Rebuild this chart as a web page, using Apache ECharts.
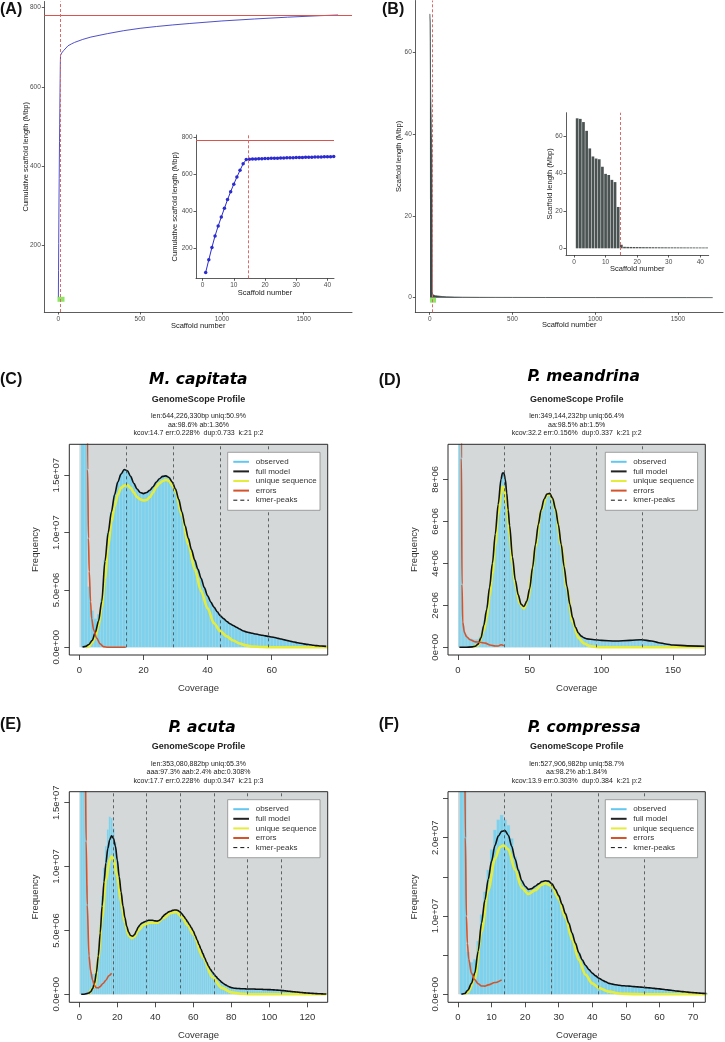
<!DOCTYPE html>
<html><head><meta charset="utf-8">
<script src="https://cdn.jsdelivr.net/npm/echarts@6/dist/echarts.min.js"></script>
<style>html,body{margin:0;padding:0;background:#fff}#c{width:725px;height:1042px}</style>
</head><body><div id="c"></div>
<script>
// ---------------- DATA ----------------
// (A) cumulative scaffold length (Mbp) for scaffolds 1..42 (inset) and sampled tail
const aInsetLen = [70, 138, 205, 267, 320, 369, 416, 463, 506, 546, 585, 621, 657, 679,
  681, 681.8, 682.5, 683.2, 683.9, 684.6, 685.2, 685.8, 686.4, 687, 687.6, 688.1, 688.6, 689.1,
  689.6, 690.1, 690.6, 691.1, 691.5, 692, 692.4, 692.8, 693.2, 693.6, 694, 694.4, 694.8, 695.2];
const aTailX = [60, 80, 100, 150, 200, 300, 400, 500, 600, 700, 800, 1000, 1200, 1400, 1600, 1710];
const aTailY = [703.5, 708, 712, 719.5, 725.5, 734, 741.5, 747.5, 752, 756, 759.5, 766, 771, 775.5, 779.3, 781];
const totalLen = 781;
const cutoffScaffold = 14.5;
const aFlag = [17, 65];
// (B) scaffold length (Mbp), scaffolds 1..42 and sampled tail
const bLen = [69.5, 69.2, 67.5, 62.8, 53.4, 49.1, 48.0, 47.6, 43.6, 39.8, 39.2, 36.6, 35.4, 22.1,
  1.9, 0.8, 0.75, 0.72, 0.7, 0.68, 0.65, 0.62, 0.6, 0.6, 0.58, 0.56, 0.55, 0.53, 0.52, 0.5,
  0.5, 0.49, 0.48, 0.47, 0.46, 0.45, 0.45, 0.44, 0.43, 0.43, 0.42, 0.42];
const bTailX = [50, 75, 100, 150, 200, 300, 400, 500, 700, 1000, 1300, 1550, 1710];
const bTailY = [0.4, 0.28, 0.2, 0.15, 0.11, 0.08, 0.07, 0.06, 0.045, 0.03, 0.022, 0.018, 0.015];
const bFlag = [20, -0.6];
const aXTicks = [0, 500, 1000, 1500], aYTicks = [200, 400, 600, 800];
const insXTicks = [0, 10, 20, 30, 40];
const bYTicks = [0, 20, 40, 60];

// (C) M. capitata, frequency in millions, coverage 1..77
const cObs = [90, 30, 5.3, 3.2, 2.5, 2.9, 4.25, 7.6, 10.0, 11.8,
  13.3, 14.4, 15.1, 15.5, 15.4, 14.9, 14.3, 13.8, 13.5, 13.4,
  13.5, 13.7, 14.0, 14.4, 14.7, 14.9, 14.95, 14.8, 14.4, 13.8,
  12.9, 11.8, 10.6, 9.5, 8.5, 7.6, 6.8, 6.0, 5.2, 4.5,
  3.95, 3.5, 3.1, 2.75, 2.5, 2.25, 2.05, 1.9, 1.75, 1.6,
  1.45, 1.35, 1.28, 1.22, 1.16, 1.1, 1.05, 1.0, 0.95, 0.9,
  0.85, 0.78, 0.72, 0.65, 0.58, 0.52, 0.46, 0.4, 0.35, 0.3,
  0.26, 0.22, 0.18, 0.15, 0.12, 0.1, 0.08];
const cFull = [0.02, 0.08, 0.25, 0.6, 1.3, 2.3, 4.0, 7.5, 10.0, 11.8,
  13.3, 14.4, 15.1, 15.5, 15.4, 14.9, 14.3, 13.8, 13.5, 13.4,
  13.5, 13.7, 14.0, 14.4, 14.7, 14.9, 14.95, 14.8, 14.4, 13.8,
  12.9, 11.8, 10.6, 9.5, 8.5, 7.6, 6.8, 6.0, 5.2, 4.5,
  3.95, 3.5, 3.1, 2.75, 2.5, 2.25, 2.05, 1.9, 1.75, 1.6,
  1.45, 1.35, 1.28, 1.22, 1.16, 1.1, 1.05, 1.0, 0.95, 0.9,
  0.85, 0.78, 0.72, 0.65, 0.58, 0.52, 0.46, 0.4, 0.35, 0.3,
  0.26, 0.22, 0.18, 0.15, 0.12, 0.1, 0.08];
const cUniqX = [2, 3, 4, 5, 6, 7, 8, 9, 10, 11, 12, 13, 14, 15, 16, 17, 18, 19, 20, 21, 22, 23, 24, 25, 26, 27, 28, 29, 30,
  32, 34, 36, 38, 40, 42, 44, 46, 48, 50, 52, 54, 57, 60, 70, 77.5];
const cUniqY = [0.0, 0.1, 0.4, 0.9, 1.9, 3.5, 6.0, 8.8, 10.9, 12.3, 13.3, 13.9, 14.1, 14.15, 13.9, 13.5, 13.1, 12.9, 12.8, 12.85,
  13.1, 13.5, 14.0, 14.3, 14.5, 14.6, 14.5, 14.1, 13.6,
  11.5, 9.0, 6.8, 4.9, 3.4, 2.1, 1.4, 0.95, 0.6, 0.33, 0.17, 0.07, 0.03, 0.01, 0, 0];
const cErrX = [2.4, 2.6, 2.85, 3.1, 3.5, 3.85, 4.5, 5.4, 6.5, 7.5, 9, 14.5];
const cErrY = [30, 15.5, 9.5, 6.6, 4.0, 2.5, 1.5, 0.8, 0.3, 0.06, 0.0, 0.0];
const cPeaks = [14.7, 29.4, 44.1, 58.8];
const cXTicks = [0, 20, 40, 60], cYTicks = [0, 5, 10, 15];
const cYLabels = ['0.0e+00', '5.0e+06', '1.0e+07', '1.5e+07'];

// (D) P. meandrina, coverage 1..172
const dObs = [200, 40, 2.0, 1.0, 0.75, 0.6, 0.5, 0.45, 0.42, 0.4,
  0.38, 0.37, 0.38, 0.4, 0.5, 0.68, 0.95, 1.28, 1.6, 2.0,
  2.45, 2.95, 3.45, 4.1, 4.75, 5.45, 6.15, 6.85, 7.45, 8.0,
  8.3, 8.35, 8.05, 7.35, 6.55, 5.8, 5.0, 4.3, 3.7, 3.2,
  2.8, 2.5, 2.25, 2.05, 1.97, 1.94, 2.0, 2.2, 2.45, 2.8,
  3.3, 3.8, 4.35, 4.9, 5.4, 5.85, 6.25, 6.55, 6.85, 7.05,
  7.2, 7.3, 7.33, 7.33, 7.25, 7.1, 6.9, 6.6, 6.25, 5.85,
  5.4, 4.9, 4.4, 3.85, 3.35, 2.9, 2.45, 2.05, 1.7, 1.4,
  1.15, 0.95, 0.8, 0.68, 0.6, 0.53, 0.48, 0.45, 0.42, 0.4,
  0.39, 0.38, 0.38, 0.37, 0.36, 0.36, 0.35, 0.35, 0.34, 0.33,
  0.33, 0.32, 0.32, 0.31, 0.31, 0.31, 0.3, 0.3, 0.3, 0.3,
  0.3, 0.3, 0.3, 0.31, 0.31, 0.31, 0.32, 0.32, 0.33, 0.33,
  0.34, 0.34, 0.35, 0.35, 0.35, 0.36, 0.36, 0.36, 0.36, 0.36,
  0.35, 0.34, 0.33, 0.32, 0.3, 0.29, 0.27, 0.26, 0.24, 0.22,
  0.21, 0.19, 0.18, 0.17, 0.16, 0.15, 0.14, 0.13, 0.12, 0.11,
  0.1, 0.1, 0.09, 0.09, 0.08, 0.08, 0.08, 0.07, 0.07, 0.07,
  0.07, 0.07, 0.06, 0.06, 0.06, 0.06, 0.06, 0.05, 0.05, 0.05, 0.05, 0.05];
const dFullX = [1, 5, 10, 12, 14, 16, 18, 20, 22, 24, 26, 28, 30, 31, 32, 33, 34, 35, 36, 38,
  40, 42, 44, 46, 48, 50, 52, 54, 56, 58, 60, 62, 64, 66, 68, 70, 72, 74, 76, 78,
  80, 82, 84, 86, 88, 90, 95, 100, 110, 120, 128, 135, 140, 145, 150, 160, 172];
const dFullY = [0, 0, 0.02, 0.05, 0.15, 0.45, 1.05, 1.8, 2.85, 4.0, 5.4, 6.8, 8.0, 8.3, 8.3, 8.0, 7.35, 6.55, 5.8, 4.3,
  3.2, 2.5, 2.05, 1.94, 2.2, 2.8, 3.8, 4.9, 5.85, 6.55, 7.05, 7.3, 7.33, 7.1, 6.6, 5.85, 4.9, 3.85, 2.9, 2.05,
  1.4, 0.95, 0.68, 0.53, 0.45, 0.4, 0.36, 0.33, 0.3, 0.33, 0.36, 0.3, 0.22, 0.16, 0.11, 0.07, 0.05];
const dUniqX = [10, 14, 18, 20, 22, 24, 26, 28, 30, 31, 32, 34, 36, 38, 40, 43, 46, 49, 52, 54,
  58, 62, 64, 66, 68, 72, 76, 80, 84, 88, 92, 96, 100, 130, 172];
const dUniqY = [0, 0.1, 0.8, 1.4, 2.4, 3.5, 4.9, 6.3, 7.3, 7.65, 7.6, 6.8, 5.4, 4.0, 3.0, 2.1, 1.85, 2.35, 3.7, 4.8,
  6.5, 7.25, 7.3, 7.05, 6.55, 4.85, 2.8, 1.2, 0.45, 0.18, 0.06, 0.02, 0, 0, 0];
const dErrX = [1.9, 2.4, 2.8, 3.3, 4.5, 6, 8.4, 12, 15.3, 19, 22.3, 26, 28, 30, 32];
const dErrY = [30, 9, 3, 1.2, 0.7, 0.5, 0.36, 0.26, 0.24, 0.2, 0.11, 0.06, 0.06, 0.12, 0.08];
const dPeaks = [32.2, 64.4, 96.6, 128.8];
const dXTicks = [0, 50, 100, 150], dYTicks = [0, 2, 4, 6, 8];
const dYLabels = ['0e+00', '2e+06', '4e+06', '6e+06', '8e+06'];

// (E) P. acuta, coverage 1..130
const eObs = [120, 60, 20, 8.5, 3.3, 1.9, 1.6, 1.6, 2.2, 3.5,
  5.4, 7.7, 9.9, 11.6, 12.9, 13.9, 13.8, 13.0, 11.9, 10.6,
  9.2, 8.0, 6.9, 6.0, 5.3, 4.85, 4.6, 4.55, 4.66, 4.95,
  5.26, 5.45, 5.58, 5.65, 5.72, 5.78, 5.8, 5.8, 5.78, 5.75,
  5.73, 5.78, 5.9, 6.1, 6.25, 6.35, 6.45, 6.5, 6.57, 6.6,
  6.6, 6.55, 6.45, 6.3, 6.1, 5.9, 5.68, 5.45, 5.2, 4.95,
  4.6, 4.25, 3.9, 3.55, 3.2, 2.85, 2.5, 2.2, 1.95, 1.75,
  1.55, 1.38, 1.22, 1.08, 0.94, 0.83, 0.74, 0.65, 0.58, 0.52,
  0.49, 0.47, 0.46, 0.45, 0.44, 0.43, 0.43, 0.42, 0.42, 0.42,
  0.41, 0.41, 0.4, 0.4, 0.39, 0.39, 0.38, 0.38, 0.37, 0.37,
  0.36, 0.35, 0.34, 0.33, 0.32, 0.31, 0.29, 0.28, 0.26, 0.24,
  0.23, 0.21, 0.2, 0.18, 0.17, 0.15, 0.14, 0.12, 0.11, 0.1,
  0.09, 0.08, 0.07, 0.06, 0.05, 0.045, 0.04, 0.03, 0.025, 0.02];
const eFull = [0.0, 0.0, 0.02, 0.05, 0.1, 0.2, 0.45, 0.86, 1.7, 3.0,
  4.8, 6.9, 8.8, 10.3, 11.4, 12.1, 12.4, 12.2, 11.6, 10.5,
  9.2, 8.0, 6.9, 6.0, 5.3, 4.85, 4.6, 4.55, 4.66, 4.95,
  5.26, 5.45, 5.58, 5.65, 5.72, 5.78, 5.8, 5.8, 5.78, 5.75,
  5.73, 5.78, 5.9, 6.1, 6.25, 6.35, 6.45, 6.5, 6.57, 6.6,
  6.6, 6.55, 6.45, 6.3, 6.1, 5.9, 5.68, 5.45, 5.2, 4.95,
  4.6, 4.25, 3.9, 3.55, 3.2, 2.85, 2.5, 2.2, 1.95, 1.75,
  1.55, 1.38, 1.22, 1.08, 0.94, 0.83, 0.74, 0.65, 0.58, 0.52,
  0.49, 0.47, 0.46, 0.45, 0.44, 0.43, 0.43, 0.42, 0.42, 0.42,
  0.41, 0.41, 0.4, 0.4, 0.39, 0.39, 0.38, 0.38, 0.37, 0.37,
  0.36, 0.35, 0.34, 0.33, 0.32, 0.31, 0.29, 0.28, 0.26, 0.24,
  0.23, 0.21, 0.2, 0.18, 0.17, 0.15, 0.14, 0.12, 0.11, 0.1,
  0.09, 0.08, 0.07, 0.06, 0.05, 0.045, 0.04, 0.03, 0.025, 0.02];
const eUniqX = [5, 8, 10, 12, 14, 16, 17, 18, 20, 22, 24, 26, 27.5, 29, 31, 34, 37, 41, 44, 48,
  51, 54, 57, 60, 65, 70, 75, 80, 85, 90, 130];
const eUniqY = [0, 0.6, 2.8, 6.0, 8.9, 10.5, 10.8, 10.6, 9.2, 7.2, 5.6, 4.6, 4.4, 4.5, 5.0, 5.45, 5.6, 5.6, 5.95, 6.35,
  6.45, 6.05, 5.4, 4.7, 2.9, 1.35, 0.5, 0.15, 0.04, 0.01, 0];
const eErrX = [2.7, 3.2, 3.6, 4.2, 5.1, 6, 7, 8, 8.9, 10, 10.9, 12.5, 14, 15.5, 17];
const eErrY = [40, 18, 12, 7, 3.0, 1.8, 1.1, 0.7, 0.52, 0.5, 0.6, 0.85, 1.1, 1.45, 1.65];
const ePeaks = [17.7, 35.4, 53.1, 70.8, 88.5, 106.2];
const eXTicks = [0, 20, 40, 60, 80, 100, 120], eYTicks = [0, 5, 10, 15];
const eYLabels = ['0.0e+00', '5.0e+06', '1.0e+07', '1.5e+07'];

// (F) P. compressa, coverage 1..74
const fObs = [150, 60, 5.4, 4.1, 4.5, 6.8, 10.2, 13.1, 15.9, 18.5,
  21.0, 22.3, 22.9, 22.3, 21.6, 19.9, 17.6, 16.0, 14.6, 13.8,
  13.4, 13.5, 13.8, 14.1, 14.4, 14.5, 14.45, 14.1, 13.4, 12.6,
  11.5, 10.3, 9.1, 7.8, 6.5, 5.3, 4.4, 3.7, 3.15, 2.7,
  2.35, 2.05, 1.8, 1.6, 1.4, 1.3, 1.22, 1.15, 1.1, 1.07,
  1.04, 1.0, 0.97, 0.93, 0.9, 0.86, 0.82, 0.78, 0.73, 0.69,
  0.64, 0.59, 0.54, 0.48, 0.43, 0.39, 0.34, 0.3, 0.25, 0.21,
  0.18, 0.15, 0.12, 0.1];
const fFull = [0.0, 0.1, 0.56, 1.4, 2.7, 5.5, 9.1, 12.0, 14.7, 17.0,
  19.0, 20.2, 20.8, 20.9, 20.3, 18.9, 17.3, 15.8, 14.5, 13.8,
  13.4, 13.5, 13.8, 14.1, 14.4, 14.5, 14.45, 14.1, 13.4, 12.6,
  11.5, 10.3, 9.1, 7.8, 6.5, 5.3, 4.4, 3.7, 3.15, 2.7,
  2.35, 2.05, 1.8, 1.6, 1.4, 1.3, 1.22, 1.15, 1.1, 1.07,
  1.04, 1.0, 0.97, 0.93, 0.9, 0.86, 0.82, 0.78, 0.73, 0.69,
  0.64, 0.59, 0.54, 0.48, 0.43, 0.39, 0.34, 0.3, 0.25, 0.21,
  0.18, 0.15, 0.12, 0.1];
const fUniqX = [2, 3, 5, 7, 9, 11, 12.5, 13.5, 15, 17, 19, 21, 23, 25, 26, 28, 30, 32, 34, 36,
  38, 40, 42, 45, 48, 50, 55, 74];
const fUniqY = [0, 0.3, 2.0, 8.0, 13.3, 17.3, 18.8, 19.0, 18.5, 15.9, 13.6, 12.8, 13.3, 14.0, 14.2, 13.8, 12.2, 9.8, 7.0, 4.4,
  2.5, 1.4, 0.8, 0.34, 0.1, 0.05, 0.01, 0];
const fErrX = [1.9, 2.2, 2.5, 2.8, 3.2, 4, 5, 6, 7, 8, 9, 11, 13];
const fErrY = [40, 20, 10, 6.5, 4.5, 2.7, 1.85, 1.35, 1.07, 1.05, 1.2, 1.5, 1.85];
const fPeaks = [13.9, 27.8, 41.7, 55.6];
const fXTicks = [0, 10, 20, 30, 40, 50, 60, 70], fYTicks = [0, 5, 10, 15, 20, 25];
const fYLabels = ['0.0e+00', '', '1.0e+07', '', '2.0e+07', ''];

const legendNames = ['observed', 'full model', 'unique sequence', 'errors', 'kmer-peaks'];

// ---------------- STYLE / BUILD ----------------
const FF = '"Liberation Sans", Arial, Helvetica, sans-serif';
const COL = {hist: '#7cd1ec', histEdge: '#9fdcef', full: '#111', uniq: '#e6ec3a', err: '#d4532b', bg: '#d4d8d8', peak: '#444'};
const zip = (xs, ys) => xs.map((x, i) => [x, ys[i]]);
const idx = (ys) => ys.map((y, i) => [i + 1, y]);

const grids = [], xAxes = [], yAxes = [], series = [], gfx = [];

function addGrid(l, t, w, h) {
  grids.push({left: l, top: t, width: w, height: h, containLabel: false, outerBoundsMode: 'none', show: false});
  return grids.length - 1;
}
function ggAxis(gi, min, max, ticks, name, gap) {
  return {type: 'value', gridIndex: gi, min, max,
    axisLine: {show: true, onZero: false, lineStyle: {color: '#333', width: 0.8}},
    axisTick: {show: true, length: 2.5, customValues: ticks, lineStyle: {color: '#333', width: 0.8}},
    axisLabel: {customValues: ticks, formatter: (v) => String(v), fontSize: 6.5, color: '#4d4d4d', margin: 3.5, fontFamily: FF},
    splitLine: {show: false},
    name, nameLocation: 'middle', nameGap: gap, nameMoveOverlap: false,
    nameTextStyle: {fontSize: 7.5, color: '#1a1a1a', fontFamily: FF}};
}
const redSolid = {color: '#d9534f', type: 'solid', width: 1};
const redDash = {color: '#dd6a6a', type: [3, 2], width: 1};

// (A) main
let g = addGrid(44.3, 1.5, 307.7, 310.5);
xAxes.push(ggAxis(g, -85, 1795, aXTicks, 'Scaffold number', 10));
yAxes.push(ggAxis(g, 33, 815, aYTicks, 'Cumulative scaffold length (Mbp)', 14.5));
series.push({type: 'line', xAxisIndex: xAxes.length - 1, yAxisIndex: yAxes.length - 1,
  data: idx(aInsetLen).concat(zip(aTailX, aTailY)), showSymbol: false,
  lineStyle: {color: '#3b3bc4', width: 0.9}, z: 3,
  markLine: {symbol: 'none', silent: true, label: {show: false},
    data: [{yAxis: totalLen, lineStyle: redSolid}, {xAxis: cutoffScaffold, lineStyle: redDash}]}});
series.push({type: 'scatter', xAxisIndex: xAxes.length - 1, yAxisIndex: yAxes.length - 1,
  data: [aFlag], symbol: 'rect', symbolSize: [7, 5], itemStyle: {color: '#6ee03a'}, z: 4});
// (A) inset
g = addGrid(196, 135, 138, 143.3);
xAxes.push(ggAxis(g, -2.1, 42.1, insXTicks, 'Scaffold number', 10.7));
yAxes.push(ggAxis(g, 38, 812, aYTicks, 'Cumulative scaffold length (Mbp)', 16.6));
series.push({type: 'line', xAxisIndex: xAxes.length - 1, yAxisIndex: yAxes.length - 1,
  data: idx(aInsetLen), showSymbol: true, symbol: 'circle', symbolSize: 3.5,
  itemStyle: {color: '#2b2bd0'}, lineStyle: {color: '#2b2bd0', width: 1}, z: 3,
  markLine: {symbol: 'none', silent: true, label: {show: false},
    data: [{yAxis: totalLen, lineStyle: redSolid}, {xAxis: cutoffScaffold, lineStyle: redDash}]}});
// (B) main
g = addGrid(415.3, 0.5, 307.7, 311.8);
xAxes.push(ggAxis(g, -87, 1772, aXTicks, 'Scaffold number', 9));
yAxes.push(ggAxis(g, -3.58, 72.78, bYTicks, 'Scaffold length (Mbp)', 11.9));
series.push({type: 'line', xAxisIndex: xAxes.length - 1, yAxisIndex: yAxes.length - 1,
  data: idx(bLen).concat(zip(bTailX, bTailY)), showSymbol: false,
  lineStyle: {color: '#3f4747', width: 0.8}, areaStyle: {color: '#3f4747', opacity: 1}, z: 3,
  markLine: {symbol: 'none', silent: true, label: {show: false}, data: [{xAxis: cutoffScaffold, lineStyle: redDash}]}});
series.push({type: 'scatter', xAxisIndex: xAxes.length - 1, yAxisIndex: yAxes.length - 1,
  data: [bFlag], symbol: 'rect', symbolSize: [6, 5], itemStyle: {color: '#6ee03a'}, z: 4});
// (B) inset
g = addGrid(566, 112.7, 142.7, 142.3);
xAxes.push(ggAxis(g, -2.53, 42.66, insXTicks, 'Scaffold number', 9.6));
yAxes.push(ggAxis(g, -3.58, 72.5, bYTicks, 'Scaffold length (Mbp)', 12.3));
series.push({type: 'bar', xAxisIndex: xAxes.length - 1, yAxisIndex: yAxes.length - 1,
  data: idx(bLen), barWidth: 2.7, itemStyle: {color: '#4a5252'}, z: 3,
  markLine: {symbol: 'none', silent: true, label: {show: false}, data: [{xAxis: cutoffScaffold, lineStyle: redDash}]}});

// GenomeScope panels
function gsPanel(p) {
  const gi = addGrid(p.left, p.top, p.width, p.height);
  const fmt = (ticks, labels) => (v) => { const k = ticks.findIndex(t => Math.abs(t - v) < 1e-9); return k < 0 ? '' : labels[k]; };
  xAxes.push({type: 'value', gridIndex: gi, min: p.xMin, max: p.xMax,
    axisLine: {show: false, onZero: false},
    axisTick: {show: true, length: 5, customValues: p.xTicks, lineStyle: {color: '#222', width: 0.8}},
    axisLabel: {customValues: p.xTicks, formatter: (v) => String(v), fontSize: 9.5, color: '#333', margin: 10, fontFamily: FF},
    splitLine: {show: false}, name: 'Coverage', nameLocation: 'middle', nameGap: 28, nameMoveOverlap: false,
    nameTextStyle: {fontSize: 9.5, color: '#333', fontFamily: FF}});
  yAxes.push({type: 'value', gridIndex: gi, min: p.yMin, max: p.yMax,
    axisLine: {show: false, onZero: false},
    axisTick: {show: true, length: 5, customValues: p.yTicks, lineStyle: {color: '#222', width: 0.8}},
    axisLabel: {customValues: p.yTicks, rotate: 90, formatter: fmt(p.yTicks, p.yLabels), fontSize: 9.5, color: '#333', margin: 8, fontFamily: FF},
    splitLine: {show: false}, name: 'Frequency', nameLocation: 'middle', nameGap: 29, nameMoveOverlap: false,
    nameTextStyle: {fontSize: 9.5, color: '#333', fontFamily: FF}});
  const xi = xAxes.length - 1, yi = yAxes.length - 1;
  series.push({type: 'bar', xAxisIndex: xi, yAxisIndex: yi, data: idx(p.obs), barWidth: p.barW, clip: true,
    itemStyle: {color: COL.hist, borderColor: COL.histEdge, borderWidth: 0.25}, z: 2, silent: true});
  series.push({type: 'line', xAxisIndex: xi, yAxisIndex: yi, data: zip(p.uniqX, p.uniqY), showSymbol: false,
    smooth: 0.3, smoothMonotone: 'x', clip: true, lineStyle: {color: COL.uniq, width: 2.6}, z: 3, silent: true,
    markArea: {silent: true, label: {show: false}, itemStyle: {color: COL.bg},
      data: [[{coord: [0, 0]}, {coord: [p.xMax, p.yMax]}]]}});
  series.push({type: 'line', xAxisIndex: xi, yAxisIndex: yi, data: p.full, showSymbol: false,
    smooth: 0.3, smoothMonotone: 'x', clip: true, lineStyle: {color: COL.full, width: 1.6}, z: 4, silent: true,
    markLine: {symbol: 'none', silent: true, label: {show: false}, lineStyle: {color: COL.peak, type: [3, 3], width: 0.8},
      data: p.peaks.map(x => [{coord: [x, 0]}, {coord: [x, p.yMax]}])}});
  series.push({type: 'line', xAxisIndex: xi, yAxisIndex: yi, data: zip(p.errX, p.errY), showSymbol: false,
    smooth: 0.3, smoothMonotone: 'x', clip: true, lineStyle: {color: COL.err, width: 1.6}, z: 5, silent: true});
  // frame
  gfx.push({type: 'rect', z: 50, silent: true, shape: {x: p.left, y: p.top, width: p.width, height: p.height},
    style: {fill: null, stroke: '#2a2a2a', lineWidth: 1}});
  // legend
  const L = p.left + p.width - 7.7 - 92.3, T = p.top + 8;
  gfx.push({type: 'rect', z: 60, silent: true, shape: {x: L, y: T, width: 92.3, height: 58},
    style: {fill: '#fff', stroke: '#8a8a8a', lineWidth: 0.8}});
  const lc = [{c: '#62c8f0', w: 2}, {c: '#222', w: 2}, {c: '#e6ec3a', w: 2}, {c: COL.err, w: 2}, {c: '#111', w: 1, d: [4, 3]}];
  legendNames.forEach((nm, i) => {
    const y = T + 9.5 + i * 9.6;
    gfx.push({type: 'line', z: 61, silent: true, shape: {x1: L + 5.6, y1: y, x2: L + 21.3, y2: y},
      style: {stroke: lc[i].c, lineWidth: lc[i].w, lineDash: lc[i].d || null}});
    gfx.push({type: 'text', z: 61, silent: true, x: L + 28, y: y,
      style: {text: nm, font: '8px ' + FF, fill: '#333', align: 'left', verticalAlign: 'middle', textAlign: 'left', textVerticalAlign: 'middle'}});
  });
  // titles
  const cx = p.left + p.width / 2;
  gfx.push({type: 'text', z: 61, silent: true, x: p.titleX, y: p.titleY,
    style: {text: p.title, font: 'italic bold 15.5px "DejaVu Sans", sans-serif', fill: '#000', align: 'center', verticalAlign: 'middle', textAlign: 'center', textVerticalAlign: 'middle'}});
  gfx.push({type: 'text', z: 61, silent: true, x: cx, y: p.top - 45,
    style: {text: 'GenomeScope Profile', font: 'bold 9px ' + FF, fill: '#222', align: 'center', verticalAlign: 'middle', textAlign: 'center', textVerticalAlign: 'middle'}});
  p.stats.forEach((s, i) => {
    gfx.push({type: 'text', z: 61, silent: true, x: cx, y: p.top - 28 + i * 8.5,
      style: {text: s, font: '7px ' + FF, fill: '#222', align: 'center', verticalAlign: 'middle', textAlign: 'center', textVerticalAlign: 'middle'}});
  });
}

gsPanel({left: 69.3, top: 444.3, width: 258.4, height: 210.7, xMin: -3.12, xMax: 77.46, yMin: -0.67, yMax: 17.7,
  xTicks: cXTicks, yTicks: cYTicks, yLabels: cYLabels, obs: cObs, full: idx(cFull), uniqX: cUniqX, uniqY: cUniqY,
  errX: cErrX, errY: cErrY, peaks: cPeaks, barW: 3.2, title: 'M. capitata', titleX: 198.3, titleY: 380,
  stats: ['len:644,226,330bp uniq:50.9%', 'aa:98.6% ab:1.36%', 'kcov:14.7 err:0.228%  dup:0.733  k:21 p:2']});
gsPanel({left: 448, top: 444.3, width: 257.3, height: 210.7, xMin: -6.98, xMax: 172.5, yMin: -0.367, yMax: 9.67,
  xTicks: dXTicks, yTicks: dYTicks, yLabels: dYLabels, obs: dObs, full: zip(dFullX, dFullY), uniqX: dUniqX, uniqY: dUniqY,
  errX: dErrX, errY: dErrY, peaks: dPeaks, barW: 1.43, title: 'P. meandrina', titleX: 583.7, titleY: 377,
  stats: ['len:349,144,232bp uniq:66.4%', 'aa:98.5% ab:1.5%', 'kcov:32.2 err:0.156%  dup:0.337  k:21 p:2']});
gsPanel({left: 69.3, top: 791.7, width: 258.4, height: 210.6, xMin: -5.26, xMax: 130.7, yMin: -0.626, yMax: 15.86,
  xTicks: eXTicks, yTicks: eYTicks, yLabels: eYLabels, obs: eObs, full: idx(eFull), uniqX: eUniqX, uniqY: eUniqY,
  errX: eErrX, errY: eErrY, peaks: ePeaks, barW: 1.9, title: 'P. acuta', titleX: 202, titleY: 728.2,
  stats: ['len:353,080,882bp uniq:65.3%', 'aaa:97.3% aab:2.4% abc:0.308%', 'kcov:17.7 err:0.228%  dup:0.347  k:21 p:3']});
gsPanel({left: 448, top: 791.7, width: 257.3, height: 210.6, xMin: -2.98, xMax: 73.67, yMin: -1.02, yMax: 25.87,
  xTicks: fXTicks, yTicks: fYTicks, yLabels: fYLabels, obs: fObs, full: idx(fFull), uniqX: fUniqX, uniqY: fUniqY,
  errX: fErrX, errY: fErrY, peaks: fPeaks, barW: 3.36, title: 'P. compressa', titleX: 584.2, titleY: 728.2,
  stats: ['len:527,906,982bp uniq:58.7%', 'aa:98.2% ab:1.84%', 'kcov:13.9 err:0.303%  dup:0.384  k:21 p:2']});

// panel letters
[['(A)', 0, 10], ['(B)', 382, 10], ['(C)', 0, 380], ['(D)', 378.7, 380.5], ['(E)', 0, 725], ['(F)', 378.7, 725]].forEach(([t, x, y]) => {
  gfx.push({type: 'text', z: 70, silent: true, x, y,
    style: {text: t, font: 'bold 16px ' + FF, fill: '#111', align: 'left', verticalAlign: 'middle', textAlign: 'left', textVerticalAlign: 'middle'}});
});

const chart = echarts.init(document.getElementById('c'), null, {renderer: 'canvas', width: 725, height: 1042});
chart.setOption({
  animation: false,
  backgroundColor: '#ffffff',
  grid: grids, xAxis: xAxes, yAxis: yAxes, series,
  graphic: {elements: gfx}
});
</script></body></html>
